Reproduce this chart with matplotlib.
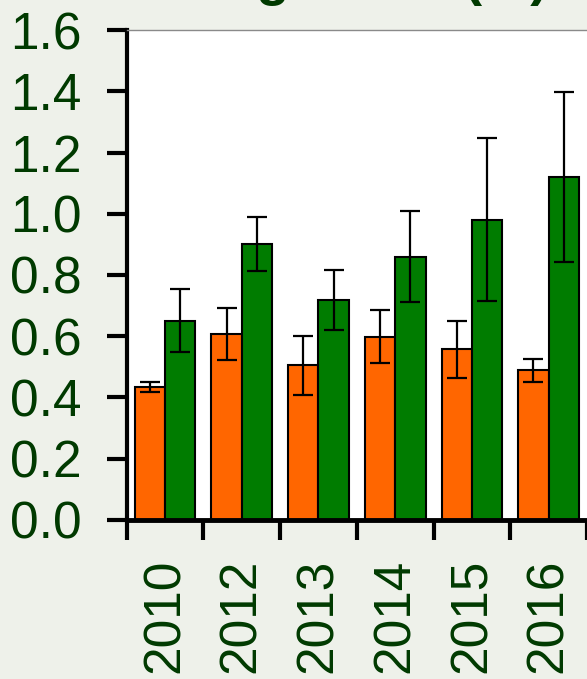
import numpy as np
import matplotlib.pyplot as plt

plt.rcParams['font.family'] = ['Liberation Sans', 'DejaVu Sans']

years = ['2010', '2012', '2013', '2014', '2015', '2016']
orange_vals = [0.434, 0.608, 0.505, 0.599, 0.557, 0.489]
orange_err = [0.016, 0.084, 0.096, 0.086, 0.094, 0.037]
green_vals = [0.651, 0.901, 0.719, 0.860, 0.981, 1.121]
green_err = [0.102, 0.088, 0.097, 0.148, 0.265, 0.278]
yticks = [0.0, 0.2, 0.4, 0.6, 0.8, 1.0, 1.2, 1.4, 1.6]

text_col = '#003a00'
bg = '#eef1ea'

fig = plt.figure(figsize=(5.87, 6.79), dpi=100, facecolor=bg)
ax = fig.add_axes([0.2158, 0.2342, 0.7842, 0.7216])
ax.set_facecolor('white')

x = np.arange(len(years))
w = 0.395
ekw = dict(elinewidth=1.6, capthick=1.6, ecolor='black')
ax.bar(x - w / 2, orange_vals, w, color='#ff6600', edgecolor='black', linewidth=1.5,
       yerr=orange_err, capsize=7, error_kw=ekw, zorder=2)
ax.bar(x + w / 2, green_vals, w, color='#007c00', edgecolor='black', linewidth=1.5,
       yerr=green_err, capsize=7, error_kw=ekw, zorder=2)

ax.set_ylim(0, 1.6)
ax.set_xlim(-0.5, 5.49)
ax.set_yticks(yticks)
ax.set_yticklabels([f'{v:.1f}' for v in yticks])

# ticks between groups, labels centred under groups
ax.set_xticks(np.arange(-0.5, 6, 1.0))
ax.set_xticklabels([])
ax.set_xticks(x, minor=True)
ax.set_xticklabels(years, minor=True, rotation=90)
ax.tick_params(axis='x', which='minor', length=0, pad=28, labelsize=37, labelcolor=text_col)
ax.tick_params(axis='x', which='major', length=14.5, width=3, direction='out')
ax.tick_params(axis='y', length=14.5, width=3, direction='out', pad=18,
               labelsize=37, labelcolor=text_col)

ax.spines['left'].set_linewidth(3)
ax.spines['bottom'].set_linewidth(3.5)
ax.spines['top'].set_linewidth(1)
ax.spines['top'].set_color('#8a8a8a')
ax.spines['right'].set_visible(False)

# title, almost all of it above the top edge (only descenders show)
fig.text(64 / 587, 1 + 5 / 679, 'Seedling cover (%)', fontsize=39, fontweight='bold',
         color=text_col, ha='left', va='baseline')

fig.savefig('out.png', dpi=100, facecolor=bg)
